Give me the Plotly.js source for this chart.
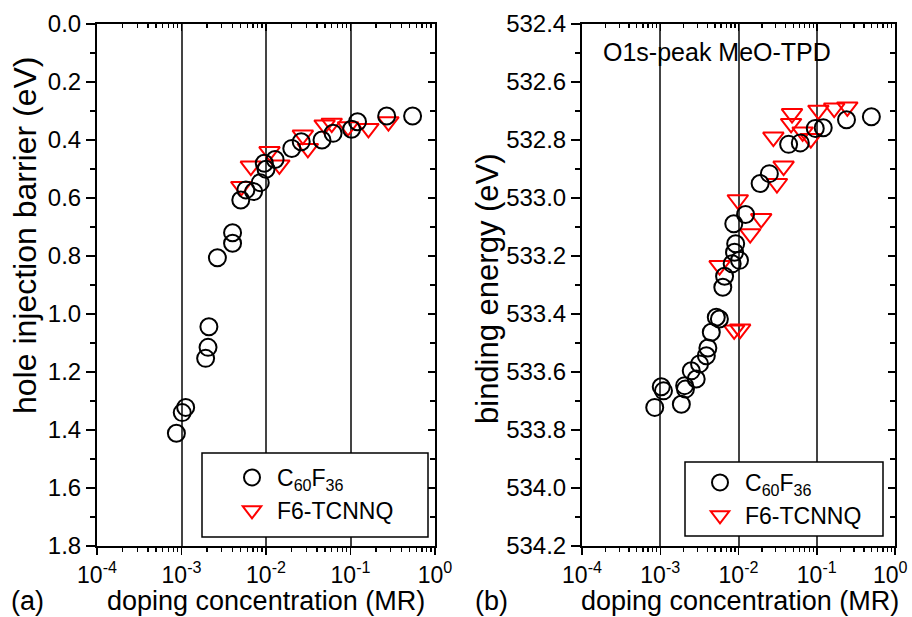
<!DOCTYPE html>
<html>
<head>
<meta charset="utf-8">
<script src="https://cdn.plot.ly/plotly-3.0.1.min.js"></script>
<style>html,body{margin:0;padding:0;background:#fff;overflow:hidden;width:912px;height:617px;}#chart{width:912px;height:617px;}</style>
</head>
<body>
<div id="chart"></div>
<script>
// ---- data ----
// panel (a): hole injection barrier (eV) vs doping concentration (MR)
const aC60x = [0.00087, 0.00102, 0.00112, 0.00193, 0.00206, 0.00211, 0.00266, 0.00402, 0.00402, 0.00503, 0.00578, 0.00714, 0.00855, 0.00955, 0.0100, 0.0128, 0.0202, 0.0261, 0.046, 0.0622, 0.103, 0.121, 0.268, 0.543];
const aC60y = [1.411, 1.340, 1.322, 1.153, 1.115, 1.044, 0.806, 0.756, 0.720, 0.607, 0.572, 0.578, 0.547, 0.480, 0.501, 0.467, 0.429, 0.406, 0.400, 0.377, 0.363, 0.337, 0.317, 0.317];
const aF6x = [0.0051, 0.00662, 0.011, 0.0144, 0.0273, 0.0313, 0.0494, 0.060, 0.0935, 0.163, 0.281];
const aF6y = [0.56, 0.49, 0.44, 0.486, 0.383, 0.429, 0.348, 0.342, 0.354, 0.360, 0.337];
// panel (b): O1s binding energy (eV) vs doping concentration (MR)
const bC60x = [0.00085, 0.00103, 0.0011, 0.00186, 0.00205, 0.0021, 0.00249, 0.00288, 0.00318, 0.00388, 0.00406, 0.00449, 0.0052, 0.0057, 0.0063, 0.00664, 0.0083, 0.0103, 0.0089, 0.0092, 0.0087, 0.0123, 0.0189, 0.0248, 0.0437, 0.0616, 0.0957, 0.121, 0.24, 0.499];
const bC60y = [533.722, 533.651, 533.665, 533.711, 533.647, 533.659, 533.596, 533.624, 533.572, 533.544, 533.517, 533.463, 533.411, 533.417, 533.308, 533.27, 533.227, 533.215, 533.187, 533.158, 533.089, 533.057, 532.95, 532.916, 532.815, 532.81, 532.76, 532.758, 532.73, 532.72];
const bF6x = [0.00573, 0.0088, 0.0105, 0.0098, 0.0141, 0.0195, 0.031, 0.0377, 0.0279, 0.0483, 0.047, 0.066, 0.084, 0.105, 0.167, 0.246];
const bF6y = [533.233, 533.455, 533.452, 533.006, 533.123, 533.071, 532.95, 532.89, 532.79, 532.709, 532.743, 532.772, 532.795, 532.697, 532.69, 532.686];

const xTickVals = [1e-4, 1e-3, 1e-2, 1e-1, 1];
const xTickText = ['10<sup>-4</sup>', '10<sup>-3</sup>', '10<sup>-2</sup>', '10<sup>-1</sup>', '10<sup>0</sup>'];
const seriesNames = ['C<sub>60</sub>F<sub>36</sub>', 'F6-TCNNQ'];
const xTitle = 'doping concentration (MR)';
const yTitleA = 'hole injection barrier (eV)';
const yTitleB = 'binding energy (eV)';
const panelB_note = 'O1s-peak MeO-TPD';

// minor tick positions of the log axes (2..9 within each decade)
const minorX = [];
for (let d = -4; d < 0; d++) for (let m = 2; m <= 9; m++) minorX.push(m * Math.pow(10, d));

// ---- layout helpers ----
const W = 912, H = 617;
const px = v => v / W, py = v => 1 - v / H;
const FONT = 'Liberation Sans, Arial, sans-serif';

const circ = {symbol: 'circle-open', size: 17, color: 'black', line: {width: 2, color: 'black'}};
const tri = {symbol: 'triangle-down-open', size: 18, color: 'red', line: {width: 2, color: 'red'}};

const traces = [
  {x: aF6x, y: aF6y, name: seriesNames[1], mode: 'markers', type: 'scatter', marker: tri, xaxis: 'x', yaxis: 'y', legend: 'legend', legendgroup: 'a2', legendrank: 2},
  {x: aC60x, y: aC60y, name: seriesNames[0], mode: 'markers', type: 'scatter', marker: circ, xaxis: 'x', yaxis: 'y', legend: 'legend', legendgroup: 'a1', legendrank: 1},
  {x: bF6x, y: bF6y, name: seriesNames[1], mode: 'markers', type: 'scatter', marker: tri, xaxis: 'x2', yaxis: 'y2', legend: 'legend2', legendgroup: 'b2', legendrank: 2},
  {x: bC60x, y: bC60y, name: seriesNames[0], mode: 'markers', type: 'scatter', marker: circ, xaxis: 'x2', yaxis: 'y2', legend: 'legend2', legendgroup: 'b1', legendrank: 1},
  {x: [], y: [], xaxis: 'x3', yaxis: 'y3', showlegend: false, type: 'scatter', mode: 'markers', hoverinfo: 'skip'},
  {x: [], y: [], xaxis: 'x4', yaxis: 'y4', showlegend: false, type: 'scatter', mode: 'markers', hoverinfo: 'skip'}
];

const ydom = [py(546), py(24)];
const xdomA = [px(97), px(435)];
const xdomB = [px(582), px(895)];
const TICKFONT_X = {family: FONT, size: 23, color: 'black'};

function xBase(domain, anchor, ticktext) {
  return {
    domain: domain, anchor: anchor, type: 'log', range: [-4, 0],
    tickmode: 'array', tickvals: xTickVals, ticktext: ticktext,
    ticks: 'outside', ticklen: 7, tickwidth: 1.5, tickcolor: 'black',
    showline: true, linewidth: 2, linecolor: 'black', mirror: false,
    showgrid: true, gridcolor: '#444', gridwidth: 2, zeroline: false,
    tickfont: TICKFONT_X,
    minor: {tickmode: 'array', tickvals: minorX, ticks: 'outside', ticklen: 4, tickwidth: 1.3, tickcolor: 'black', showgrid: false},
    fixedrange: true
  };
}
function xMirror(overlay, anchor) {
  return {
    overlaying: overlay, anchor: anchor, side: 'top', type: 'log', range: [-4, 0],
    tickmode: 'array', tickvals: xTickVals, ticktext: xTickText, showticklabels: false,
    ticks: 'inside', ticklen: 7, tickwidth: 1.5, tickcolor: 'black',
    showline: true, linewidth: 2, linecolor: 'black', showgrid: false, zeroline: false,
    minor: {tickmode: 'array', tickvals: minorX, ticks: 'inside', ticklen: 4, tickwidth: 1.3, tickcolor: 'black', showgrid: false}
  };
}
function yBase(range, anchor) {
  return {
    domain: ydom, anchor: anchor, range: range, tick0: 0, dtick: 0.2, tickformat: '.1f',
    ticks: 'outside', ticklen: 9, tickwidth: 1.5, tickcolor: 'black',
    showline: true, linewidth: 2, linecolor: 'black', showgrid: false, zeroline: false,
    tickfont: {family: FONT, size: 24, color: 'black'},
    minor: {dtick: 0.1, ticks: 'outside', ticklen: 5, tickwidth: 1.3, tickcolor: 'black', showgrid: false},
    fixedrange: true
  };
}
function yMirror(overlay, anchor, range) {
  return {
    overlaying: overlay, anchor: anchor, side: 'right', range: range, tick0: 0, dtick: 0.2,
    showticklabels: false, ticks: 'inside', ticklen: 7, tickwidth: 1.5, tickcolor: 'black',
    showline: true, linewidth: 2, linecolor: 'black', showgrid: false, zeroline: false,
    minor: {dtick: 0.1, ticks: 'inside', ticklen: 5, tickwidth: 1.3, tickcolor: 'black', showgrid: false}
  };
}

const rangeA = [1.8, 0];
const rangeB = [534.2, 532.4];

// panel (b): the last tick label touches the page edge; it is drawn as an annotation ending at the edge
const xTickTextB = xTickText.slice(0, 4).concat(['']);

const legendCommon = {
  bgcolor: 'rgba(0,0,0,0)', borderwidth: 0, itemwidth: 40, tracegroupgap: 10,
  font: {family: FONT, size: 23, color: 'black'}, xanchor: 'left', yanchor: 'top', traceorder: 'normal'
};

const layout = {
  width: W, height: H, autosize: false,
  margin: {l: 0, r: 0, t: 0, b: 0},
  paper_bgcolor: 'white', plot_bgcolor: 'white',
  font: {family: FONT, color: 'black'},
  xaxis: xBase(xdomA, 'y', xTickText),
  yaxis: yBase(rangeA, 'x'),
  xaxis2: xBase(xdomB, 'y2', xTickTextB),
  yaxis2: yBase(rangeB, 'x2'),
  xaxis3: xMirror('x', 'y3'),
  yaxis3: yMirror('y', 'x3', rangeA),
  xaxis4: xMirror('x2', 'y4'),
  yaxis4: yMirror('y2', 'x4', rangeB),
  legend: Object.assign({}, legendCommon, {x: px(227), y: py(456)}),
  legend2: Object.assign({}, legendCommon, {x: px(695), y: py(461)}),
  shapes: [
    {type: 'rect', xref: 'paper', yref: 'paper', x0: px(202), x1: px(428), y0: py(537), y1: py(453), fillcolor: 'white', line: {color: 'black', width: 1.5}, layer: 'above'},
    {type: 'rect', xref: 'paper', yref: 'paper', x0: px(685), x1: px(883), y0: py(536), y1: py(462), fillcolor: 'white', line: {color: 'black', width: 1.5}, layer: 'above'}
  ],
  annotations: [
    {text: xTickText[4], xref: 'paper', yref: 'paper', x: px(910), y: py(573), xanchor: 'right', yanchor: 'middle', showarrow: false, font: TICKFONT_X},
    {text: yTitleA, xref: 'paper', yref: 'paper', x: px(25), y: py(235), textangle: -90, showarrow: false, xanchor: 'center', yanchor: 'middle', font: {family: FONT, size: 32, color: 'black'}},
    {text: yTitleB, xref: 'paper', yref: 'paper', x: px(487), y: py(288), textangle: -90, showarrow: false, xanchor: 'center', yanchor: 'middle', font: {family: FONT, size: 31, color: 'black'}},
    {text: xTitle, xref: 'paper', yref: 'paper', x: px(266), y: py(601), showarrow: false, xanchor: 'center', yanchor: 'middle', font: {family: FONT, size: 27, color: 'black'}},
    {text: xTitle, xref: 'paper', yref: 'paper', x: px(740), y: py(601), showarrow: false, xanchor: 'center', yanchor: 'middle', font: {family: FONT, size: 27, color: 'black'}},
    {text: '(a)', xref: 'paper', yref: 'paper', x: px(27), y: py(601), showarrow: false, xanchor: 'center', yanchor: 'middle', font: {family: FONT, size: 27, color: 'black'}},
    {text: '(b)', xref: 'paper', yref: 'paper', x: px(491), y: py(601), showarrow: false, xanchor: 'center', yanchor: 'middle', font: {family: FONT, size: 27, color: 'black'}},
    {text: panelB_note, xref: 'paper', yref: 'paper', x: px(717), y: py(52), showarrow: false, xanchor: 'center', yanchor: 'middle', font: {family: FONT, size: 25, color: 'black'}}
  ]
};

Plotly.newPlot('chart', traces, layout, {displayModeBar: false, staticPlot: true});
</script>
</body>
</html>
